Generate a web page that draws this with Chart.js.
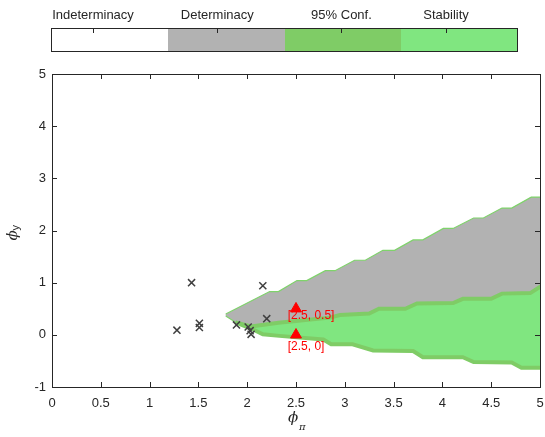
<!DOCTYPE html>
<html>
<head>
<meta charset="utf-8">
<script src="https://cdn.jsdelivr.net/npm/chart.js@4"></script>
<style>
  body { margin: 0; background: #fff; font-family: "Liberation Sans", Arial, sans-serif; }
  #wrap { position: relative; width: 545px; height: 437px; overflow: hidden; }
  #chart { position: absolute; left: 0; top: 0; }
  #cbar { position: absolute; left: 51px; top: 28px; width: 467px; height: 24px;
          box-sizing: border-box; border: 1px solid #262626; display: flex; }
  #cbar div.seg { flex: 1; height: 100%; }
  .ctick { position: absolute; top: 28px; width: 1px; height: 5px; background: #262626; }
  .clab { position: absolute; top: 7px; font-size: 13px; color: #262626; transform: translateX(-50%); white-space: nowrap; }
</style>
</head>
<body>
<div id="wrap">
  <canvas id="chart" width="545" height="437"></canvas>
  <div id="cbar"></div>
</div>
<script>
// -------------------- Data --------------------
// upper edge of the determinacy (gray) region, phi_pi / phi_y
const detUpX = [1.78, 2.23, 2.32, 2.51, 2.61, 2.80, 2.90, 3.10, 3.21, 3.39, 3.51, 3.70, 3.80, 4.01, 4.11, 4.32, 4.42, 4.61, 4.71, 4.91, 5.05];
const detUpY = [0.40, 0.83, 0.83, 1.04, 1.04, 1.23, 1.23, 1.43, 1.43, 1.62, 1.62, 1.82, 1.82, 2.04, 2.04, 2.24, 2.24, 2.43, 2.43, 2.64, 2.64];
// gray edge left of the stability region
const detLowX = [1.78];
const detLowY = [0.36];
// stability region, top and bottom edges
const stabTopX = [1.88, 2.04, 2.32, 2.85, 2.95, 3.25, 3.35, 3.62, 3.74, 4.11, 4.21, 4.50, 4.61, 4.90, 5.00, 5.05];
const stabTopY = [0.24, 0.16, 0.23, 0.33, 0.38, 0.41, 0.50, 0.50, 0.60, 0.61, 0.69, 0.69, 0.79, 0.80, 0.92, 0.95];
const stabBotX = [1.88, 2.04, 2.16, 2.33, 2.78, 2.86, 3.08, 3.29, 3.70, 3.80, 4.21, 4.32, 4.71, 4.81, 5.05];
const stabBotY = [0.24, 0.12, 0.01, -0.02, -0.09, -0.18, -0.18, -0.30, -0.31, -0.43, -0.43, -0.52, -0.53, -0.63, -0.63];
// estimated rules (x marks)
const estPi = [1.28, 1.43, 1.51, 1.51, 1.89, 2.01, 2.03, 2.04, 2.16, 2.20];
const estY  = [0.09, 1.00, 0.22, 0.14, 0.19, 0.15, 0.08, 0.01, 0.94, 0.31];
// benchmark rules (red triangles)
const rulePi = [2.5, 2.5];
const ruleY = [0.5, 0];
const ruleLabels = ['[2.5, 0.5]', '[2.5, 0]'];
const ruleLabelX = [2.415, 2.415];
const ruleLabelY = [0.374, -0.224];

const legendLabels = ['Indeterminacy', 'Determinacy', '95% Conf.', 'Stability'];
const legendColors = ['#ffffff', '#b2b2b2', '#7fcc66', '#80e680'];
const legendTickAt = [0.09, 0.356, 0.622, 0.846];

const FONT = '"Liberation Sans", Arial, sans-serif';
const AXIS = '#262626';

// -------------------- Colour bar --------------------
const wrap = document.getElementById('wrap');
const cbar = document.getElementById('cbar');
legendColors.forEach(c => {
  const d = document.createElement('div');
  d.className = 'seg';
  d.style.background = c;
  cbar.appendChild(d);
});
legendLabels.forEach((txt, i) => {
  const px = 51 + legendTickAt[i] * 467;
  const t = document.createElement('div');
  t.className = 'ctick';
  t.style.left = Math.round(px) + 'px';
  wrap.appendChild(t);
  const l = document.createElement('div');
  l.className = 'clab';
  l.style.left = px + 'px';
  l.textContent = txt;
  wrap.appendChild(l);
});

// -------------------- Helpers --------------------
const pts = (xs, ys) => xs.map((v, i) => ({ x: v, y: ys[i] }));

const grayPoly = pts(detUpX, detUpY)
  .concat(pts(stabTopX, stabTopY).reverse())
  .concat(pts(detLowX, detLowY));
const greenPoly = pts(stabTopX, stabTopY).concat(pts(stabBotX, stabBotY).reverse());

// axes box with inward ticks on all four sides
const boxPlugin = {
  id: 'box',
  afterDraw(chart) {
    const { ctx, chartArea: a, scales: { x, y } } = chart;
    ctx.save();
    ctx.strokeStyle = AXIS;
    ctx.lineWidth = 1;
    ctx.strokeRect(a.left + 0.5, a.top + 0.5, a.right - a.left, a.bottom - a.top);
    ctx.beginPath();
    x.ticks.forEach(t => {
      const px = Math.round(x.getPixelForValue(t.value)) + 0.5;
      ctx.moveTo(px, a.bottom); ctx.lineTo(px, a.bottom - 5);
      ctx.moveTo(px, a.top); ctx.lineTo(px, a.top + 5);
    });
    y.ticks.forEach(t => {
      const py = Math.round(y.getPixelForValue(t.value)) + 0.5;
      ctx.moveTo(a.left, py); ctx.lineTo(a.left + 5, py);
      ctx.moveTo(a.right, py); ctx.lineTo(a.right - 5, py);
    });
    ctx.stroke();
    ctx.restore();
  }
};

// red point labels and axis titles with subscripts
const textPlugin = {
  id: 'texts',
  afterDraw(chart) {
    const { ctx, chartArea: a, scales: { x, y } } = chart;
    ctx.save();
    ctx.fillStyle = 'red';
    ctx.font = '12px ' + FONT;
    ctx.textBaseline = 'middle';
    ctx.textAlign = 'left';
    ruleLabels.forEach((s, i) => {
      ctx.fillText(s, x.getPixelForValue(ruleLabelX[i]), y.getPixelForValue(ruleLabelY[i]));
    });

    ctx.fillStyle = AXIS;
    ctx.textBaseline = 'alphabetic';
    // x title: phi_pi
    const cx = (a.left + a.right) / 2;
    ctx.font = 'italic 15px "DejaVu Serif", serif';
    ctx.fillText('ϕ', cx - 8, 422);
    ctx.font = 'italic 10px "DejaVu Serif", serif';
    ctx.fillText('π', cx + 3, 430);
    // y title: phi_y
    ctx.translate(17, (a.top + a.bottom) / 2 + 10);
    ctx.rotate(-Math.PI / 2);
    ctx.font = 'italic 15px "DejaVu Serif", serif';
    ctx.fillText('ϕ', 0, 0);
    ctx.font = '11px ' + FONT;
    ctx.fillText('y', 10, 2);
    ctx.restore();
  }
};

const fmt = v => String(Math.round(v * 10) / 10);

// -------------------- Chart --------------------
new Chart(document.getElementById('chart'), {
  type: 'scatter',
  data: {
    datasets: [
      {
        label: 'Determinacy',
        type: 'line',
        order: 4,
        data: grayPoly,
        fill: 'shape',
        backgroundColor: legendColors[1],
        borderColor: '#7fd36b',
        borderWidth: 1.2,
        pointRadius: 0,
        tension: 0
      },
      {
        label: 'Stability',
        type: 'line',
        order: 3,
        data: greenPoly,
        fill: 'shape',
        backgroundColor: legendColors[3],
        borderColor: legendColors[2],
        borderWidth: 4,
        pointRadius: 0,
        tension: 0
      },
      {
        label: 'Estimates',
        order: 2,
        data: pts(estPi, estY),
        pointStyle: 'crossRot',
        pointRadius: 5,
        borderColor: '#404040',
        borderWidth: 1.5
      },
      {
        label: 'Rules',
        order: 1,
        data: pts(rulePi, ruleY),
        pointStyle: 'triangle',
        pointRadius: 6.3,
        backgroundColor: '#ff0000',
        borderColor: '#ff0000',
        borderWidth: 1
      }
    ]
  },
  options: {
    responsive: false,
    animation: false,
    layout: { autoPadding: false, padding: { top: 74, right: 5, bottom: 0, left: 0 } },
    plugins: { legend: { display: false }, tooltip: { enabled: false } },
    scales: {
      x: {
        type: 'linear',
        min: 0, max: 5,
        grid: { display: false, drawTicks: false },
        border: { display: false },
        ticks: { stepSize: 0.5, color: AXIS, font: { size: 13, family: FONT }, padding: 9, maxRotation: 0, callback: fmt },
        afterFit(scale) { scale.height = 50; scale.paddingLeft = 0; scale.paddingRight = 0; }
      },
      y: {
        type: 'linear',
        min: -1, max: 5,
        grid: { display: false, drawTicks: false },
        border: { display: false },
        ticks: { stepSize: 1, color: AXIS, font: { size: 13, family: FONT }, padding: 6, callback: fmt },
        afterFit(scale) { scale.width = 52; scale.paddingTop = 0; scale.paddingBottom = 0; }
      }
    }
  },
  plugins: [boxPlugin, textPlugin]
});
</script>
</body>
</html>
